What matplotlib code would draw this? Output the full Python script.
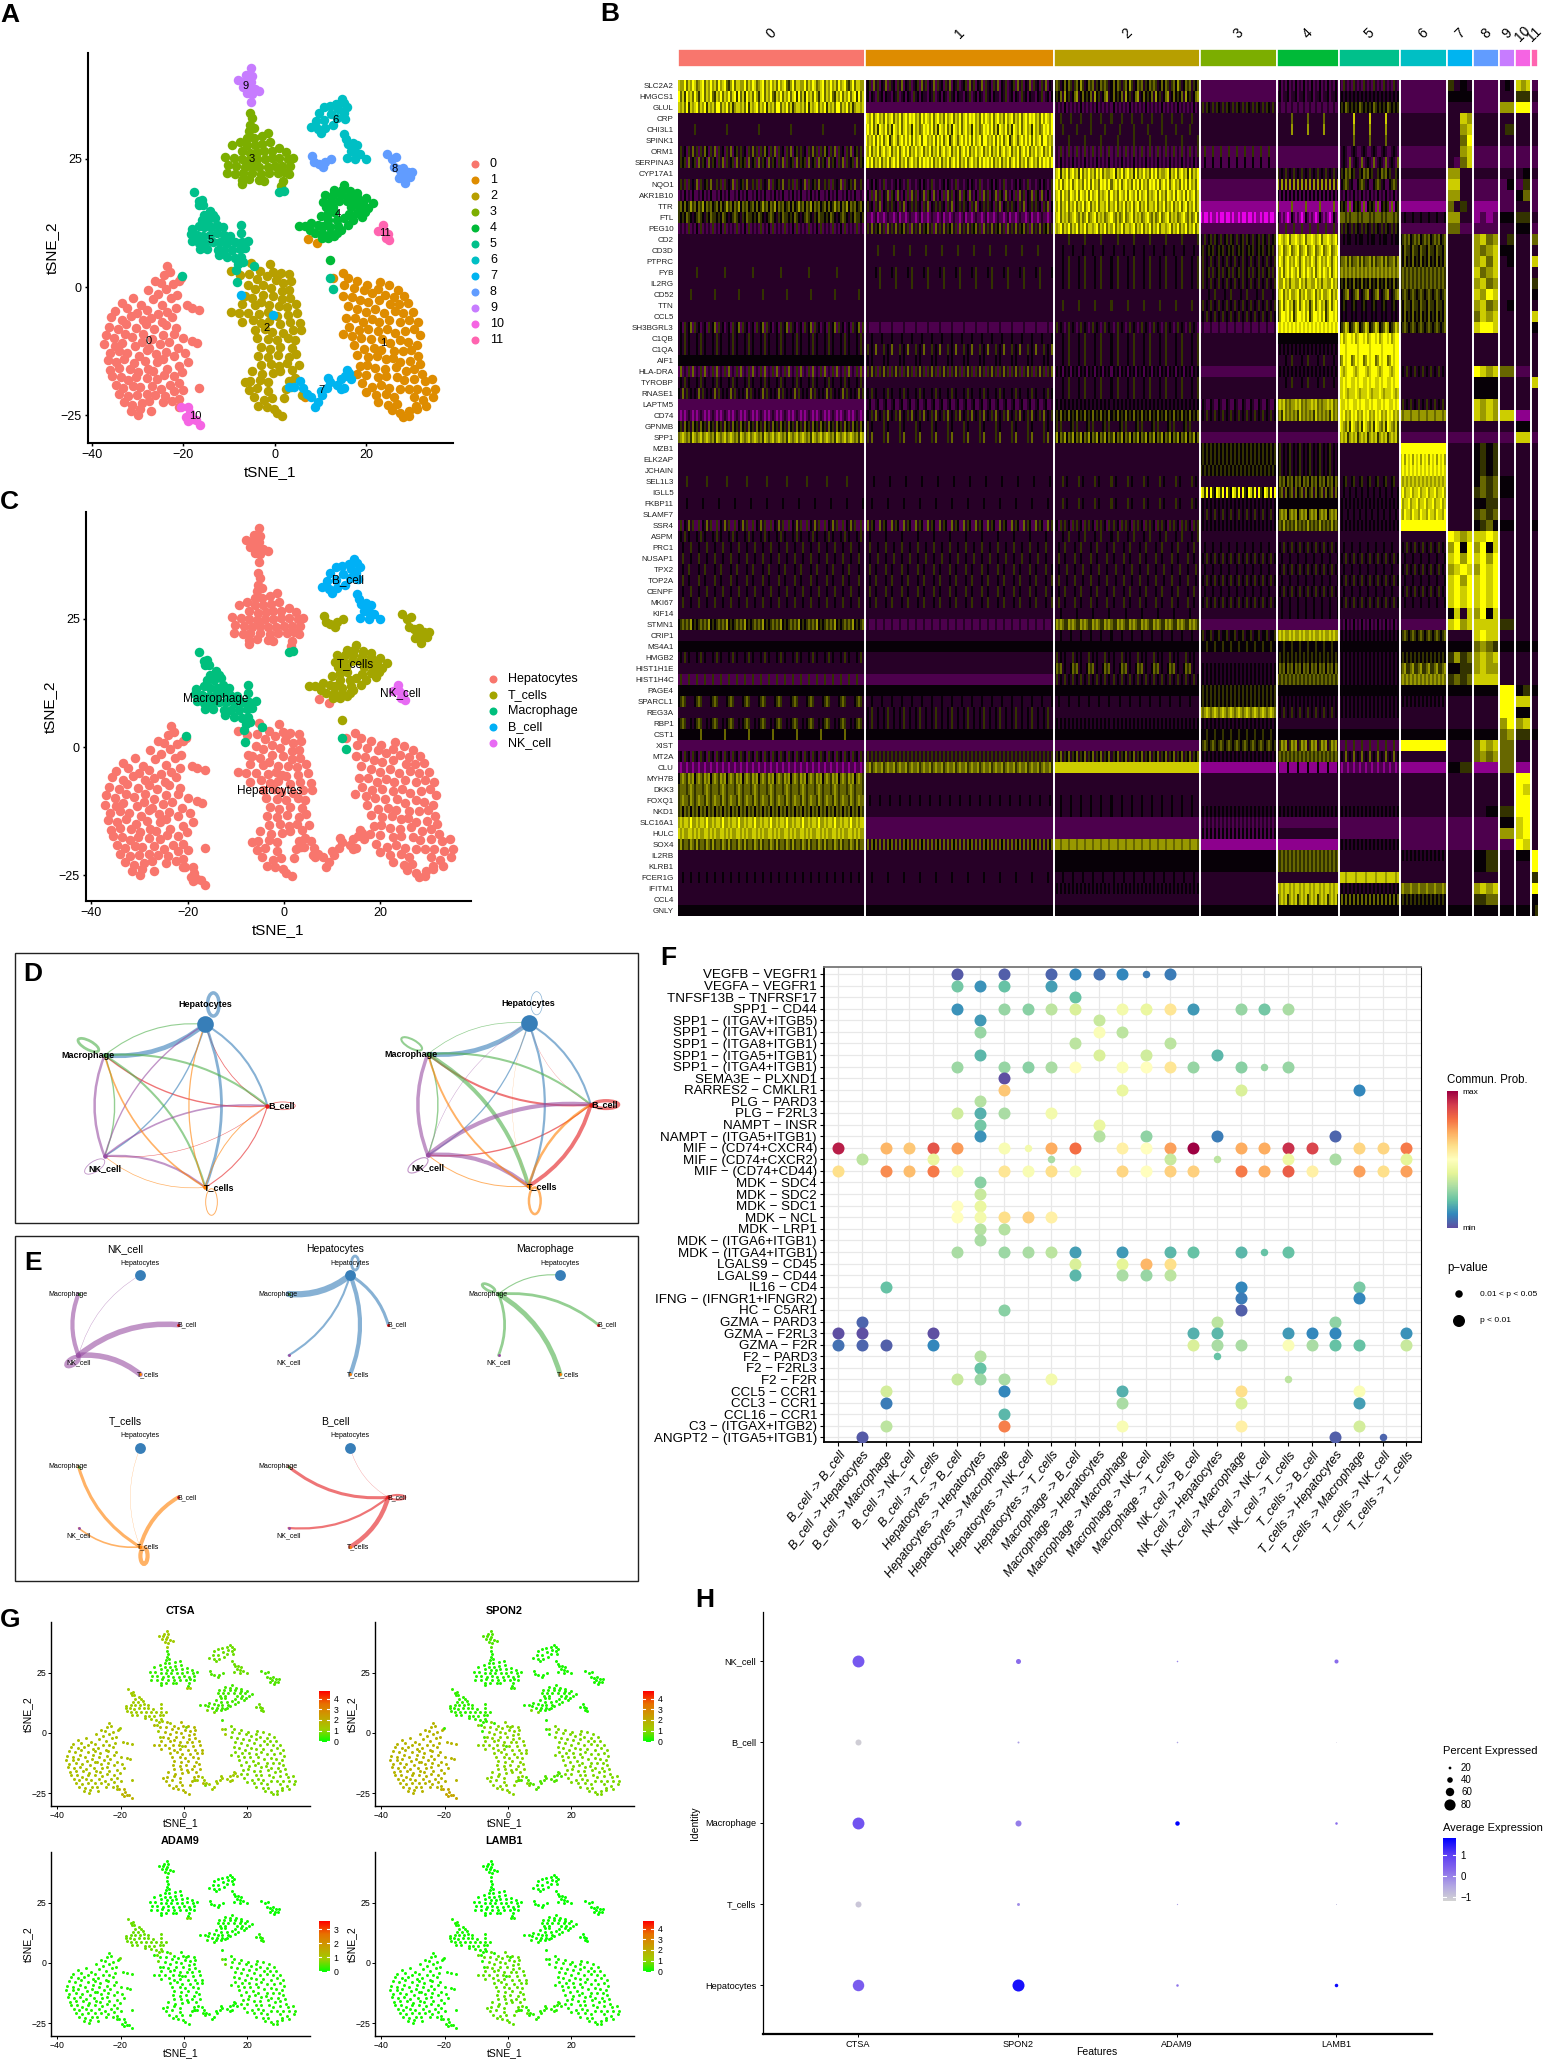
"""
Multi-panel single cell figure: tSNE maps, marker heatmap, cell-cell networks, bubble plot, feature maps, dot plot.
"""

import matplotlib
matplotlib.use("Agg")
import matplotlib.pyplot as plt
import numpy as np
from matplotlib.colors import LinearSegmentedColormap
from matplotlib.patches import Ellipse, FancyArrowPatch, Rectangle

plt.rcParams['font.family'] = ['Liberation Sans', 'DejaVu Sans']

W, H = 1548, 2059

# tSNE cells, one list per cluster
CL0 = [(-23.5, 4.1), (-24.1, 2.4), (-22.9, 2.9), (-20.4, 1.8), (-26.1, 1.1), (-24.9, .7), (-22.3, .5), (-20.9, 1.2), (-27.8, -.6), (-25.6, -1.3), (-23.7, -.4), (-21.3, -1.6), (-22.6, -2.1),
       (-33.4, -3.1), (-30.9, -2.2), (-29.2, -3.6), (-26.7, -2.4), (-24.6, -3.5), (-34.9, -4.6), (-32.3, -4.1), (-30.1, -5.1), (-28, -4.4), (-25.6, -5.2), (-23.5, -4.8), (-21.6, -4.1), (-18, -4.1), (-16.5, -4.4), (-19.2, -3.6),
       (-35.7, -5.8), (-33.4, -6.4), (-31.4, -5.7), (-28.8, -6.5), (-27, -6.1), (-24.7, -6.9), (-22.4, -5.9), (-36.3, -7.7), (-34.2, -8.1), (-32.5, -7.2), (-30.3, -7.9), (-28.1, -7.3), (-26.4, -8.2), (-23.8, -7.4), (-21.5, -7.9),
       (-36.9, -9.4), (-35.1, -9.9), (-32.8, -9.2), (-31.1, -9.8), (-28.8, -9.1), (-26.9, -10.1), (-24.4, -9.4), (-22.1, -9.2), (-37.2, -11.2), (-34.9, -11.4), (-33.4, -10.9), (-30.6, -11.5), (-29, -10.7), (-27.5, -11.9), (-25.1, -11.1), (-23.2, -10.8), (-20, -9.9),
       (-36.1, -12.8), (-34.1, -12.4), (-32.2, -12.9), (-29.7, -13.4), (-28, -12.2), (-26, -13.1), (-23.8, -12.6), (-21.1, -11.9), (-18.1, -10.6), (-17, -10.9), (-36.5, -14.2), (-34.7, -14.6), (-32.9, -14.1), (-30.8, -14.9), (-28.4, -14.4), (-25.7, -14.7), (-24.4, -14.1), (-22, -13.5), (-19.6, -12.8),
       (-36, -16.1), (-34, -15.8), (-31.7, -16), (-29.9, -16.6), (-27.8, -15.9), (-26.6, -16.3), (-23.6, -15.9), (-21, -15.3), (-19, -14.7), (-35.6, -17.4), (-33.6, -17.6), (-32, -18.2), (-30.4, -17.6), (-28, -17.7), (-25.8, -17.9), (-24.3, -17.2), (-22, -17.3), (-20.2, -16.6),
       (-34.7, -19), (-33.1, -19.7), (-31, -19.2), (-29.4, -19.4), (-26.9, -19.3), (-24.9, -19.8), (-23, -19), (-21, -18.8), (-34.1, -20.8), (-32, -21.2), (-30.1, -21), (-28, -20.9), (-26.1, -21), (-24, -21.3), (-22, -20.3), (-20, -20),
       (-33, -22.4), (-31.2, -23), (-29.1, -22.6), (-27.4, -22.3), (-24.5, -22.5), (-22.5, -22.3), (-21, -21.9), (-31.5, -24.1), (-29.5, -23.8), (-27, -24.2), (-21, -23.3), (-29.8, -24.9), (-16.5, -19.6)]
CL1 = [(14.8, 2.7), (15.9, 1.8), (18, 1.1), (20.2, .4), (23, 1), (24.9, .3), (26.8, -.5), (15.2, .4), (17.2, -.2), (19.4, -.6), (21.2, -1.2), (22.6, -.3), (24.1, -1.5), (26, -2), (28.3, -1.7),
       (14.9, -1.8), (16.8, -1.9), (18.6, -2.6), (20.4, -3), (22.7, -2.5), (25.2, -3.4), (27.1, -3.3), (29.1, -3.2), (16, -3.7), (18, -4.2), (19.8, -4.8), (21.9, -4.3), (23.9, -5), (26.2, -4.7), (28, -5.1), (30.1, -4.9),
       (15.6, -6), (17.4, -6.1), (19.2, -6.9), (21.2, -6.2), (22.8, -6.8), (25, -6.5), (27.3, -6.9), (29.2, -6.4), (31.2, -6.9), (16.2, -7.8), (18.3, -8.4), (20.4, -8.2), (22.6, -8.6), (24.4, -8.1), (26.2, -8.9), (28.4, -8.6), (30.3, -8.2), (31.6, -9.4),
       (14.8, -9.1), (16.9, -9.6), (18.8, -10), (20.9, -10.2), (23.4, -10.1), (25.1, -10.9), (27.3, -10.4), (29.1, -10.7), (31, -11.3), (17.2, -11.3), (19.4, -12.1), (21.6, -11.8), (23.2, -12.3), (26, -12.4), (28, -12.5), (29.8, -12.3), (31.3, -13.4),
       (18, -13.2), (20.4, -13.6), (22.4, -13.4), (24.2, -14.1), (25.8, -13.9), (27.4, -14.6), (29.6, -14.4), (31.8, -15), (18.6, -15.4), (20.2, -15.2), (21.9, -15.8), (24, -15.9), (26.4, -15.6), (28.6, -16.3), (30.4, -16), (32.1, -16.9),
       (17.9, -17), (19.8, -17.1), (22.6, -17.6), (24.3, -17.4), (26.7, -17.6), (28.1, -18.2), (30.4, -18), (32.8, -18.3), (34.4, -17.9), (19, -18.8), (21.3, -19.4), (23.2, -19.1), (25, -19.6), (27.4, -19.8), (29.2, -19.9), (31.1, -19.9), (33.1, -20.2), (35, -19.8),
       (20, -20.5), (22, -21), (24.2, -20.8), (26, -21.4), (30.4, -21.4), (32.4, -22), (34.6, -21.4), (22.6, -22.4), (24.8, -23), (26.6, -22.8), (30.8, -23.1), (33, -23.2), (25.6, -24), (27.4, -24.6), (29.4, -24.2), (31, -23.8), (28, -25.4), (29.2, -25.2),
       (12.8, 1.8), (9.3, 8.6), (7.3, 9.4), (.7, 2.3), (6.5, -21.5)]
CL2 = [(-5.2, 4.6), (-3.2, 3.1), (-1, 4.4), (-.3, 3), (1.3, 2.7), (3, 2.6), (-5.7, 2.6), (-3.9, 1.6), (-1.8, 2.2), (.2, 1.3), (1.8, .8), (3.6, 1.1), (-9.5, 3.2), (-7.6, 2.4), (-5.9, .3), (-4.4, -.4), (-2.5, .4), (-.8, -.1), (1.6, -.8), (3.1, -.5),
       (-6.6, -1.7), (-5, -2.1), (-2.6, -1.6), (-.3, -1.8), (1.6, -2.4), (3.4, -2.2), (-7.1, -3.4), (-4.4, -3.5), (-3.1, -3), (-1.3, -3.6), (.9, -3.7), (2.6, -3.9), (4.6, -3.3), (-7.9, -5), (-5.9, -5), (-3.4, -5.2), (-1.6, -4.9), (.4, -5.6), (2.9, -5.4), (4.9, -5), (-9.5, -4.8),
       (-7.1, -6.8), (-4.7, -6.4), (-3, -7), (-1.2, -6.6), (1.2, -7.2), (3.4, -6.9), (5.6, -7), (-4.4, -8.4), (-2.1, -8.1), (-.6, -8.7), (1.8, -8.9), (4, -8.4), (5.8, -8.4), (-3.8, -9.9), (-1.4, -10.1), (.4, -10.4), (2.9, -10), (4.4, -10.3),
       (-3, -11.6), (-1.1, -12), (1.2, -11.7), (3.8, -11.9), (-3.6, -13.4), (-1.4, -13.6), (.6, -13.3), (3, -13.7), (4.6, -13), (-3.1, -15.2), (-.8, -15), (1, -15.4), (2.6, -14.9), (5.2, -15.2), (-4.9, -16.4), (-2.8, -16.9), (-.5, -16.8), (1.2, -16.4), (3.7, -16.1),
       (-5.4, -18.4), (-3.2, -18.1), (-1.4, -18.6), (3.1, -18.4), (4.4, -17.8), (-6.6, -18.6), (-5.6, -20), (-3.9, -19.7), (-1.4, -20.3), (2.4, -19.8), (3.6, -19.5), (-4.6, -21.5), (-2.4, -22), (-.6, -21.7), (2, -21.6), (6, -21), (-3.6, -23.1), (-1.8, -23.4), (-.2, -23.8), (1.6, -25.2), (.4, -24.6)]
CL3 = [(-5.4, 34), (-5, 33), (-5.4, 31.6), (-5.6, 30.4), (-4.6, 30.9), (-6, 29), (-4.6, 29), (-1.4, 30), (-2.9, 29.5), (-7.6, 28.2), (-6, 27.6), (-4.4, 27.6), (-2.8, 27.8), (-1, 28.2), (-9.4, 27.6), (-7.2, 26.5), (-5.4, 26.2), (-3.8, 26.4), (-2.4, 26.6), (-.6, 26.6), (1, 27), (2.4, 26.3),
       (-10.8, 25.3), (-9, 25.2), (-7.2, 25), (-5.6, 24.8), (-4, 25), (-2.2, 25), (-.6, 25.1), (1, 25.2), (2.8, 25), (4, 25.2), (-10.2, 23.8), (-8.4, 23.6), (-6.6, 23.4), (-5, 23.6), (-3.4, 23.4), (-1.6, 23.4), (0, 23.6), (1.6, 23.5), (3.2, 23.6),
       (-10.4, 22.2), (-8.6, 22), (-7, 22.3), (-5, 22.2), (-3, 22), (-1.2, 22.2), (.6, 22.2), (2, 22.4), (3, 22), (-7.2, 20.8), (-5.6, 21), (-3.4, 20.8), (-2.4, 20.7), (1.7, 20.6), (1.4, 19.7), (-7.2, 20)]
CL4 = [(15, 19.9), (13, 19), (14.6, 18.9), (16.4, 18.8), (18, 18.4), (11, 18), (12.6, 18), (14.4, 18), (16.2, 17.8), (18, 17.6), (19.8, 17.4), (10.6, 16.6), (12.2, 16.8), (14, 16.8), (15.8, 16.7), (17.6, 16.6), (19.2, 16.6), (21.4, 16.3),
       (11.2, 15.6), (12.8, 15.6), (16.6, 15.6), (18.4, 15.6), (20.4, 15.4), (11.6, 14.4), (13, 14.6), (16.2, 14.2), (18, 14.4), (19.6, 14.6), (10, 13.8), (11.6, 13), (13.6, 13), (15, 13.4), (17, 13), (19, 13.6),
       (8, 12.5), (9.5, 12), (10.6, 11.8), (12, 11.6), (13.8, 11.8), (16, 12), (5.2, 11.8), (6.5, 11.8), (7.6, 11.2), (8.8, 10.6), (10.4, 10.6), (12, 10.4), (13.6, 10.6), (14.4, 11.2), (10.2, 9.6), (11.6, 9.6), (13, 10), (12.1, 5.2)]
CL5 = [(-17.7, 18.5), (-16.6, 16.8), (-16, 17), (-16.5, 16), (-15.6, 15.9), (-14.2, 14.8), (-13.6, 14), (-15.4, 14), (-16, 13), (-14.6, 13), (-13, 13.4), (-18.2, 11.4), (-16.6, 11.8), (-15.4, 11.6), (-14, 11.6), (-12.6, 12), (-11.4, 11.6), (-7.4, 12),
       (-18.4, 10.4), (-17, 10.2), (-15.6, 10), (-14.2, 10.2), (-12.6, 10.6), (-11.2, 10.2), (-9.8, 10), (-7.4, 10.6), (-18, 9), (-16.6, 8.6), (-15.2, 8.6), (-13.6, 8.8), (-12, 8.8), (-10.4, 8.6), (-8.8, 8.8), (-7.2, 8.8), (-5.8, 8.9),
       (-16.4, 7.4), (-14.8, 7.4), (-12.4, 7.2), (-11, 7.2), (-9.4, 7.2), (-7.6, 7.4), (-6.6, 7.6), (-12.2, 6.2), (-10.4, 5.8), (-8.8, 5.6), (-7.4, 5.8), (-8, 4.5), (-7, 4.8), (-8.4, 3.3), (-4.5, 4), (-8.2, 1), (12.8, -.3), (12, 1.8), (1, 18.6), (1.9, 18.7), (-20.3, 2.1)]
CL6 = [(14.6, 36.6), (15.2, 35.8), (13.4, 35.6), (15.8, 35), (12, 35.2), (13.8, 34.6), (15, 34), (10.8, 35), (12.2, 33.8), (13.6, 33), (15.4, 32.8), (9.6, 34), (10.8, 32.6), (9, 32.4), (7.8, 31.2), (9.4, 30.8), (11, 31), (12.6, 31.6), (10, 30),
       (15.2, 29.8), (15.6, 28.9), (16, 27.8), (17, 28), (18, 27.6), (16.6, 26.6), (17.6, 26.4), (18.6, 26), (15.8, 25.2), (17.6, 25), (19.8, 25)]
CL7 = [(3, -19.4), (4.2, -19.4), (5.6, -18.4), (6.2, -19.6), (7, -20.8), (-.5, -5.5), (-7.5, -1.6), (8, -21.4), (8.8, -23.4), (9.4, -22.4), (10.4, -21), (11.4, -19.6), (12, -18.6), (11.6, -17.8), (10, -20.2), (13.6, -19), (14.4, -18), (15, -19.6), (15.4, -17.4), (16.2, -16.8), (16.6, -18), (15.8, -16.2), (14.4, -19.8)]
CL8 = [(8.2, 25.6), (8.6, 24.4), (9.6, 24), (10.6, 23.4), (11, 24.3), (12.2, 25), (24.4, 26), (25.6, 25), (26.4, 25.4), (26, 23.4), (27, 23), (28, 23.2), (29, 22.4), (30, 22.4), (27.6, 22), (28.6, 21.4), (29.6, 21.4), (28.4, 20.3), (27.2, 21.2)]
CL9 = [(-5.3, 42.6), (-6.2, 41.4), (-5, 41.2), (-8, 40.3), (-6.6, 40.2), (-5.2, 40), (-7, 39), (-5.8, 39), (-4.4, 38.6), (-3.4, 38.2), (-6, 37.8), (-5, 37.6), (-5.3, 36)]
CL10 = [(-20.6, -23.4), (-19, -23.4), (-18.6, -24.6), (-19.4, -25.4), (-18, -25.8), (-17.2, -26), (-16.4, -26.9), (-19, -26.2)]
CL11 = [(23.6, 12), (22.6, 10.9), (23.8, 11), (24.6, 10.4), (24.2, 9.6), (25, 9.2)]
CLUSTERS = [CL0, CL1, CL2, CL3, CL4, CL5, CL6, CL7, CL8, CL9, CL10, CL11]

CLUSTER_NAMES = ['0', '1', '2', '3', '4', '5', '6', '7', '8', '9', '10', '11']
CLUSTER_COLORS = ['#F8766D', '#DE8C00', '#B79F00', '#7CAE00', '#00BA38', '#00C08B', '#00BFC4', '#00B4F0', '#619CFF', '#C77CFF', '#F564E3', '#FF64B0']
CLUSTER_LABEL_POS = [(-27.5, -10.5), (23.7, -10.9), (-1.8, -7.9), (-5, 25), (13.8, 14.3), (-14, 9.2), (13.2, 32.5), (10.2, -20), (26.2, 23), (-6.4, 39.2), (-17.3, -25.2), (24, 10.5)]

CELL_TYPES = ['Hepatocytes', 'T_cells', 'Macrophage', 'B_cell', 'NK_cell']
CELL_COLORS = ['#F8766D', '#A3A500', '#00BF7D', '#00B0F6', '#E76BF3']
CLUSTER_TYPE = [0, 0, 0, 0, 1, 2, 3, 0, 1, 0, 0, 4]
CELL_LABEL_POS = [(-2.9, -8.6), (14.8, 16.2), (-14.1, 9.4), (13.2, 32.6), (24.1, 10.6)]

# heatmap: cells per cluster, then one string of shade digits per cluster for each gene
CLUSTER_CELLS = [187, 189, 145, 77, 62, 61, 47, 26, 26, 16, 16, 7]
SHADES = [-.9, -.55, -.3, -.15, -.03, .2, .4, .6, .8, 1.]
GENES = ['SLC2A2', 'HMGCS1', 'GLUL', 'CRP', 'CHI3L1', 'SPINK1', 'ORM1', 'SERPINA3', 'CYP17A1', 'NQO1', 'AKR1B10', 'TTR', 'FTL', 'PEG10', 'CD2', 'CD3D', 'PTPRC', 'FYB', 'IL2RG', 'CD52', 'TTN', 'CCL5', 'SH3BGRL3',
         'C1QB', 'C1QA', 'AIF1', 'HLA-DRA', 'TYROBP', 'RNASE1', 'LAPTM5', 'CD74', 'GPNMB', 'SPP1', 'MZB1', 'ELK2AP', 'JCHAIN', 'SEL1L3', 'IGLL5', 'FKBP11', 'SLAMF7', 'SSR4', 'ASPM', 'PRC1', 'NUSAP1', 'TPX2', 'TOP2A', 'CENPF', 'MKI67', 'KIF14',
         'STMN1', 'CRIP1', 'MS4A1', 'HMGB2', 'HIST1H1E', 'HIST1H4C', 'PAGE4', 'SPARCL1', 'REG3A', 'RBP1', 'CST1', 'XIST', 'MT2A', 'CLU', 'MYH7B', 'DKK3', 'FOXQ1', 'NKD1', 'SLC16A1', 'HULC', 'SOX4', 'IL2RB', 'KLRB1', 'FCER1G', 'IFITM1', 'CCL4', 'GNLY']
HEAT_ROWS = [
    "877968798678968797869789657968 345263524362534253624352 565346465356475346563546 2 2423 32532 2 5343 2 343 878 2",
    "968597869758968796587968796895 342432534243324352 454637453467346 2 3423 34 2 4 2 3 55 3",
    "878695878968795878699687968578 2 23232423 3535435354 232 4546545 2 3 2 77 99 2",
    "3 987968978697896879689798978697 33353 3 33333336 33333338 3 3387 3 3 3 3",
    "3333333353333333 897968598796859879689785978679 3333533 3 33333337 33333337 3 3378 3 355 3 3",
    "3 978796979689579868979796978969 33333335 3 3 33333336 3 3369 3 3 3 3",
    "353425363525364253625342536245 879687968978968796897968797896 23252325 2252 2 23432 2 3378 2 2 2 2",
    "354526345263542635425362534526 897968796879689796879689786979 232423 2242 2 234326 2 3268 2 2 2 2",
    "3 3 789587968978596879786979687 3 5343 354656453 3 73 3 3 34 3",
    "353525343625345363 323424323523 897968979689786979697869 2 73 24565342 2 83 2 24 25 2",
    "232423242 242526352436254263 789697869879698796978968 2 42 2324 2 73 2 2 46 2",
    "564645756465746564 353425362435 879687968796879689687968 1 6111111 4545161 1 6353 1 2 3 2",
    "545465434565435465 32212312212 789687867897686796 01001011010 4212101 666565 3343 73 1212 4 5 3",
    "232325232425 353635463526 878968796879687968 2 5222 35354 2 62 2 3 4 2",
    "3 3 33333335 43534535 89878968 334344 45656 3 7867 35 3 6",
    "3 33333353 33334 45345 78967896 3 5465 3 7678 4 3 3",
    "3 3 33334335 3534 79868978 566757 5464 3 7868 34 3 8",
    "33333333353333 33333435 33334335 35345 87968979 676767 5656 3 8678 3 3 3",
    "3 33333335 33334335 3534 87797868 4546 5656 3 7867 3 3 5",
    "333333533333 3 3 33334335 78968797 34567 4565 3 8798 3 3 4",
    "3 3 33335333 3534 57968978 34543 5465 3 7867 34 3 3",
    "3 3 3 3435 57998979 34343 5464 3 6878 3 3 8",
    "342534625342 232222 353432 2322 98989898 45687 4565 3 8998 3 3 4",
    "34353433 33343 33334335 3 4 897899 3 3 3 3 3 3",
    "34353433 35343633 33334335 3 34 999899 3 3 3 3 3 3",
    "4 34343333 33334335 3 33334335 679899 3 3 3 3 3 3",
    "262325 253635 2434 2 3434 987899 3435 3 9878 6 2 3",
    "34353433 3 33334335 3 33334335 889899 3 3 4 3 3 8",
    "43635343 34353433 33334335 3 3 889878 3 3 4 3 3 3",
    "2 2342 3434 2432 78786767 988989 3534 3 8787 3 3 3",
    "212123 343536 4546 3435 67586767 989787 7677 3 8787 8 1 3",
    "453645364536 35343333 45353333 3 3 987685 3 3 3 3 4 3",
    "678767587678 35363333 5746 2 2 78785 2 2 2 2 8 2",
    "3 3 3 4545 45343 3 9999 3 4545 3 3 3",
    "3 3 3 4545 45343 3 8979 3 4545 3 3 3",
    "3 3 3 5454 45343 3 8989 3 4545 3 3 3",
    "3333533333 33334333 33335343 3 4656 3345 8787 3 4656 4 3 3",
    "3 3 3 98593954 45636 334 8978 3 5656 4 3 3",
    "33334333 33343333 33335343 34 4 34 9788 3 45 3 3 3",
    "3 3 3 3435 46767 343 8798 3 5656 3 3 3",
    "252436352 263542 342535 3434 565756 3434 9999 3 4564 4 3 4",
    "34353433 33433333 33334335 3 3 3 3 9878 8898 3 3 3",
    "33433353 33533343 33433533 3343 3435 3343 3435 7949 7948 3 3 3",
    "33533343 33433353 33533433 3435 3343 3435 3343 8979 8979 3 3 3",
    "33433533 33533433 33433353 3343 3435 3343 3435 7898 7989 3 3 3",
    "33533433 33433533 33533343 3435 3343 3435 3343 8979 8989 3 3 3",
    "33433353 33533433 33433533 3343 3435 3343 3435 8989 8989 3 3 3",
    "33533343 33433533 33533433 3435 3343 3435 3343 8989 8989 3 3 3",
    "3 3 33343333 3 3343 3 3 4838 7948 3 3 3",
    "456565745 2322 576765 2 2 2324 2 8978 8888 5 3 3",
    "3 3 33343 4534 78787 34 4565 3 8988 3 3 3",
    "4 4 4 4445 4445 4 4 4 6765 4 4 4",
    "34353433 3 35343433 3 4545 34 4545 5756 7878 3 3 3",
    "3 3 46563433 34 4656 34 5675 45 7877 3 3 3",
    "2522 2 3534 34 6565 34 6767 5656 8888 3 3 3",
    "4 4 4 4545 4 4 4 4 4 99 45 4",
    "45653333 33343 33433 4545 34 34 34 3 3 99 88 3",
    "3 34353343 3 7678 3435 34 3 3 3 99 4 3",
    "45653343 34353343 34 34 3 3 3 3 3 79 78 3",
    "444444444446 4 4 4445 4 4 4 4 4 67 5 4",
    "2 2 2 4565 35767 2225 9999 3 6878 6 3 3",
    "3425 3535 3546 3434 5656 3436 3 3 6767 6 3 3",
    "212 667567 8888888 1 41111 212 1 45 1 6 1 3",
    "46765767 3 3 3 3 3 3 3 3 3 99 3",
    "56665676 3 3 3 3 3 3 3 3 3 98 3",
    "56766576 33433 33343 3 3 3 3 3 3 3 99 3",
    "56465646 3 33343 34 34 34 3 3 34 5 99 3",
    "78788797 2 2 23 2 2 2 2 2 4 89 3",
    "87877887 2 2 24 3 2 2 2 2 7 89 3",
    "57566576 36364636 7776 1 1 34 2 2 2 2 98 3",
    "3 3 4 4 6565 3 34 3 45 3 4 9",
    "3 3 4 4 6565 3 3 3 45 3 3 9",
    "33433343 33343333 33334 3 3 88878 3 3 3 3 3 5",
    "3 3 34 3 87878 34 6766 3 7878 3 3 9",
    "3 3 3 3 57878 46 45 3 56 3 3 4",
    "4 4 4 4 4 4 4 4 4 4 4 45",
]

# networks: order on the circle, strengths as line widths from source (row) to target (column)
NODE_NAMES = ['B_cell', 'Hepatocytes', 'Macrophage', 'NK_cell', 'T_cells']
NODE_COLORS = ['#E41A1C', '#377EB8', '#4DAF4A', '#984EA3', '#FF7F00']
NODE_LABEL_DX = [.16, 0, -.19, 0, .15]
NODE_LABEL_DY = [0, .225, 0, -.145, 0]
LOOP_DX = [.17, .09, -.18, -.11, .07]
LOOP_DY = [0, .23, .12, -.12, -.17]
LOOP_W = [.28, .13, .26, .26, .13]
LOOP_H = [.09, .27, .1, .12, .31]
LOOP_ANGLE = [0, 0, -30, 35, 0]
D_LEFT = [[.6, .6, 1., .4, .8], [1.5, 2.5, 3.4, 1., 2.], [1.5, .8, 2., 1., 1.5], [1.2, 1., 1.8, .6, 1.5], [.7, .9, 1.2, .5, .7]]
D_RIGHT = [[2.4, .2, 1.5, 1., 2.8], [1.5, .5, 3.4, .9, 1.6], [1.5, .5, 1.5, 1., 2.8], [3., .3, 2.5, .8, 3.], [1.8, .15, 1.4, .7, 1.8]]
E_ORDER = [3, 1, 2, 4, 0]
E_WIDTHS = [[4., .3, 3., 3., 4.], [2.2, 2., 4.5, 1.5, 3.], [2., .8, 2., 2., 3.5], [2.8, .2, 2.2, 1.2, 3.], [1.5, .2, 2.2, 1.6, 3.2]]

# bubble plot, rows from top to bottom; column 1 is the first pair
PAIRS = ['VEGFB − VEGFR1', 'VEGFA − VEGFR1', 'TNFSF13B − TNFRSF17', 'SPP1 − CD44', 'SPP1 − (ITGAV+ITGB5)', 'SPP1 − (ITGAV+ITGB1)', 'SPP1 − (ITGA8+ITGB1)', 'SPP1 − (ITGA5+ITGB1)', 'SPP1 − (ITGA4+ITGB1)', 'SEMA3E − PLXND1',
         'RARRES2 − CMKLR1', 'PLG − PARD3', 'PLG − F2RL3', 'NAMPT − INSR', 'NAMPT − (ITGA5+ITGB1)', 'MIF − (CD74+CXCR4)', 'MIF − (CD74+CXCR2)', 'MIF − (CD74+CD44)', 'MDK − SDC4', 'MDK − SDC2', 'MDK − SDC1', 'MDK − NCL', 'MDK − LRP1',
         'MDK − (ITGA6+ITGB1)', 'MDK − (ITGA4+ITGB1)', 'LGALS9 − CD45', 'LGALS9 − CD44', 'IL16 − CD4', 'IFNG − (IFNGR1+IFNGR2)', 'HC − C5AR1', 'GZMA − PARD3', 'GZMA − F2RL3', 'GZMA − F2R', 'F2 − PARD3', 'F2 − F2RL3', 'F2 − F2R',
         'CCL5 − CCR1', 'CCL3 − CCR1', 'CCL16 − CCR1', 'C3 − (ITGAX+ITGB2)', 'ANGPT2 − (ITGA5+ITGB1)']
SOURCES = ['B_cell', 'Hepatocytes', 'Macrophage', 'NK_cell', 'T_cells']
TARGETS = ['B_cell', 'Hepatocytes', 'Macrophage', 'NK_cell', 'T_cells']
F_COLS = [[6, 8, 10, 11, 12, 13, 14, 15], [6, 7, 8, 10], [11], [6, 8, 9, 10, 11, 13, 14, 15, 16, 18, 19, 20], [7, 12], [7, 12, 13], [11, 15], [7, 12, 14, 17], [6, 8, 9, 10, 11, 13, 14, 15, 16, 18, 19, 20], [8],
          [8, 13, 18, 23], [7], [6, 7, 8, 10], [7, 12], [7, 12, 14, 17, 22], [1, 3, 4, 5, 6, 8, 9, 10, 11, 13, 14, 15, 16, 18, 19, 20, 21, 23, 24, 25], [2, 5, 10, 15, 17, 20, 22, 25], [1, 3, 4, 5, 6, 8, 9, 10, 11, 13, 14, 15, 16, 18, 19, 20, 21, 23, 24, 25],
          [7], [7], [6, 7], [6, 7, 8, 9, 10], [7, 8], [7], [6, 8, 9, 10, 11, 13, 15, 16, 18, 19, 20], [11, 13, 14, 15], [11, 13, 14, 15], [3, 18, 23], [18, 23], [8, 18], [2, 17, 22], [1, 2, 5, 16, 17, 20, 21, 22, 25],
          [1, 2, 3, 5, 16, 17, 18, 20, 21, 22, 23, 25], [7, 17], [7], [6, 7, 8, 10, 20], [3, 8, 13, 18, 23], [3, 13, 18, 23], [8], [3, 8, 13, 18, 23], [2, 22, 24]]
F_VALS = [[.02, .03, .04, .1, .06, .1, .08, .08], [.22, .12, .2, .14], [.2], [.12, .27, .25, .33, .38, .45, .42, .58, .13, .27, .22, .3], [.13, .35], [.27, .48, .33], [.33, .33], [.18, .38, .36, .18], [.28, .27, .25, .3, .5, .48, .5, .58, .27, .25, .27, .27], [0],
          [.65, .42, .38, .1], [.32], [.36, .17, .3, .45], [.22, .42], [.12, .32, .26, .08, .04], [.95, .68, .65, .85, .73, .47, .45, .7, .8, .55, .5, .72, 1., .7, .7, .92, .88, .62, .62, .78], [.33, .42, .3, .35, .33, .43, .3, .4], [.6, .75, .67, .78, .47, .58, .47, .6, .47, .62, .5, .63, .63, .78, .7, .83, .55, .72, .6, .72],
          [.25], [.35], [.5, .42], [.5, .45, .6, .63, .55], [.32, .32], [.3], [.3, .28, .3, .33, .14, .13, .18, .2, .18, .2, .2], [.38, .4, .68, .6], [.18, .3, .27, .33], [.2, .1, .23], [.08, .1], [.25, .03], [.04, .33, .26], [0, 0, 0, .17, .18, .13, .1, .1, .12],
          [.06, .04, .03, .1, .38, .3, .3, .48, .3, .2, .2, .35], [.32, .2], [.2], [.35, .28, .3, .45, .33], [.37, .1, .17, .6, .48], [.08, .3, .38, .14], [.18], [.33, .77, .47, .55, .37], [.02, .03, .04]]
# (row, column) of the p between 0.01 and 0.05 dots
F_SMALL = [(0, 14), (8, 19), (15, 9), (16, 10), (16, 17), (24, 19), (33, 17), (35, 20), (40, 24)]

# feature maps: level of each gene per cluster
FEATURES = ['CTSA', 'SPON2', 'ADAM9', 'LAMB1']
FEATURE_LEVELS = [[1.5, .9, 1.7, .4, .5, 1.2, .8, 1.2, .6, 1.2, 1.9, .8], [1.8, .9, 1., .25, .25, .35, .2, .6, .2, .6, 2.2, .2], [.2, .2, .15, .05, .1, .6, .05, .1, .05, .1, .1, .2], [.15, .2, .7, .05, .1, .2, .05, .3, .05, .05, .2, .05]]
FEATURE_VMAX = [4.7, 4.7, 3.6, 4.7]
FEATURE_TICKS = [[0, 1, 2, 3, 4], [0, 1, 2, 3, 4], [0, 1, 2, 3], [0, 1, 2, 3, 4]]

# dot plot
H_IDENTS = ['Hepatocytes', 'T_cells', 'Macrophage', 'B_cell', 'NK_cell']
H_PCT = [[82, 86, 18, 25], [43, 21, 9, 6], [85, 43, 32, 18], [43, 14, 11, 4], [85, 36, 11, 29]]
H_AVG = [[.45, 1.5, .1, 1.6], [-1., -.2, -.4, -.8], [.6, 0., 1.7, .2], [-1.1, -.4, -.5, -1.], [.5, .2, -.1, .2]]
H_LEGEND_PCT = [20, 40, 60, 80]


fig = plt.figure(figsize=(W / 100, H / 100), dpi=100)


def px_axes(x0, y0, x1, y1):
    return fig.add_axes([x0 / W, 1 - y1 / H, (x1 - x0) / W, (y1 - y0) / H])


def dot_area(d):
    # scatter size for a dot of d pixels across
    return (d * .72) ** 2


def style_tsne(ax, xlim, ylim, fs, lw, labelfs, xpad, ypad, tickpad=2):
    ax.set_xlim(*xlim)
    ax.set_ylim(*ylim)
    ax.set_xticks([-40, -20, 0, 20])
    ax.set_yticks([-25, 0, 25])
    ax.set_yticklabels(['−25', '0', '25'])
    ax.set_xticklabels(['−40', '−20', '0', '20'])
    ax.tick_params(labelsize=fs, width=lw * .7, length=2.5, pad=tickpad)
    for s in ['top', 'right']:
        ax.spines[s].set_visible(False)
    for s in ['left', 'bottom']:
        ax.spines[s].set_linewidth(lw)
    ax.set_xlabel('tSNE_1', fontsize=labelfs, labelpad=xpad)
    ax.set_ylabel('tSNE_2', fontsize=labelfs, labelpad=ypad)


def gradient_bar(rect, cmap, vmin, vmax, ticks=None, fs=7):
    ax = px_axes(*rect)
    ax.imshow(np.linspace(0, 1, 200)[:, None], aspect='auto', cmap=cmap, origin='lower', extent=[0, 1, vmin, vmax])
    ax.set_xticks([])
    ax.yaxis.tick_right()
    ax.set_yticks(ticks if ticks else [])
    ax.tick_params(length=0, labelsize=fs, pad=3)
    for s in ax.spines.values():
        s.set_visible(False)
    for t in (ticks or []):
        ax.plot([0, .2], [t, t], color='white', lw=.8)
        ax.plot([.8, 1], [t, t], color='white', lw=.8)
    ax.set_xlim(0, 1)
    ax.set_ylim(vmin, vmax)
    return ax


def draw_network(cx, cy, rx, ry, widths, sources, node_size, fs, bold, title=None):
    ax = px_axes(cx - 1.6 * rx, cy - 1.6 * ry, cx + 1.6 * rx, cy + 1.6 * ry)
    ax.set_xlim(-1.6, 1.6)
    ax.set_ylim(-1.6, 1.6)
    ax.axis('off')
    ax.patch.set_alpha(0)
    angle = np.radians(np.arange(5) * 72)
    xs, ys = np.cos(angle), np.sin(angle)
    for row, src in zip(widths, sources):
        for dst, lw in enumerate(row):
            if dst == src:
                ax.add_patch(Ellipse((xs[src] + LOOP_DX[src], ys[src] + LOOP_DY[src]), LOOP_W[src], LOOP_H[src], angle=LOOP_ANGLE[src],
                                     fill=False, edgecolor=NODE_COLORS[src], alpha=.6, lw=lw))
            else:
                ax.add_patch(FancyArrowPatch((xs[src], ys[src]), (xs[dst], ys[dst]), connectionstyle='arc3,rad=-0.2', arrowstyle='-',
                                             shrinkA=0, shrinkB=0, color=NODE_COLORS[src], alpha=.6, lw=lw))
    sizes = [node_size * .27] * 5
    sizes[1] = node_size
    for i in range(5):
        ax.plot(xs[i], ys[i], 'o', color=NODE_COLORS[i], ms=sizes[i], mew=0)
        ax.text(xs[i] + NODE_LABEL_DX[i], ys[i] + NODE_LABEL_DY[i], NODE_NAMES[i], ha='center', va='center', fontsize=fs,
                fontweight='bold' if bold else 'normal')
    if title:
        ax.text(.04, 1.45, title, ha='center', va='center', fontsize=7.5)


# panel A
ax = px_axes(88, 53, 453, 443)
for pts, col in zip(CLUSTERS, CLUSTER_COLORS):
    p = np.array(pts)
    ax.scatter(p[:, 0], p[:, 1], s=dot_area(9.5), color=col, linewidths=0)
for name, pos in zip(CLUSTER_NAMES, CLUSTER_LABEL_POS):
    ax.text(pos[0], pos[1], name, ha='center', va='center', fontsize=8)
style_tsne(ax, (-40.8, 38.9), (-30.4, 45.6), 9, 1.5, 11, 3, 1)

# panel C
ax = px_axes(86, 512, 470.6, 901)
for pts, t in zip(CLUSTERS, CLUSTER_TYPE):
    p = np.array(pts)
    ax.scatter(p[:, 0], p[:, 1], s=dot_area(9.5), color=CELL_COLORS[t], linewidths=0)
for name, pos in zip(CELL_TYPES, CELL_LABEL_POS):
    ax.text(pos[0], pos[1], name, ha='center', va='center', fontsize=8.5)
style_tsne(ax, (-41.1, 38.7), (-30, 45.8), 9, 1.5, 11, 3, 1)

# panel B
ax_bar = px_axes(678, 49, 1538, 67)
lefts = np.cumsum([0] + CLUSTER_CELLS[:-1])
ax_bar.bar(lefts, 1, width=CLUSTER_CELLS, align='edge', color=CLUSTER_COLORS, edgecolor='white', linewidth=1.2)
ax_bar.set_xlim(0, sum(CLUSTER_CELLS))
ax_bar.set_ylim(0, 1)
ax_bar.axis('off')
for name, left, width in zip(CLUSTER_NAMES, lefts, CLUSTER_CELLS):
    ax_bar.text(left + width / 2, 1.85, name, rotation=45, ha='center', va='center', fontsize=10)

ax_heat = px_axes(678, 80, 1538, 916)
grid = np.zeros((len(GENES), sum(CLUSTER_CELLS)))
for r, row in enumerate(HEAT_ROWS):
    for left, width, group in zip(lefts, CLUSTER_CELLS, row.split()):
        cells = np.array([SHADES[int(c)] for c in group])
        if width < 40:
            # narrow clusters: the string runs once across the cluster
            grid[r, left:left + width] = cells[np.arange(width) * len(cells) // width]
        else:
            # wide clusters: the string repeats as thin stripes
            grid[r, left:left + width] = cells[(np.arange(width) // 2) % len(cells)]
pury = LinearSegmentedColormap.from_list('pury', ['#FF00FF', '#000000', '#FFFF00'])
ax_heat.imshow(grid, aspect='auto', cmap=pury, vmin=-1, vmax=1, interpolation='nearest', extent=[0, sum(CLUSTER_CELLS), len(GENES), 0])
for left in lefts[1:]:
    ax_heat.axvline(left, color='white', lw=1.4)
ax_heat.set_xticks([])
ax_heat.set_yticks(np.arange(len(GENES)) + .5)
ax_heat.set_yticklabels(GENES, fontsize=5.8, color='#222222')
ax_heat.tick_params(length=0, pad=3)
for s in ax_heat.spines.values():
    s.set_visible(False)

# panels D and E
overlay = fig.add_axes([0, 0, 1, 1], zorder=10)
overlay.set_xlim(0, W)
overlay.set_ylim(H, 0)
overlay.axis('off')
overlay.patch.set_alpha(0)
overlay.add_patch(Rectangle((15, 953), 623, 270, fill=False, edgecolor='#222222', lw=1))
overlay.add_patch(Rectangle((15, 1236), 623, 345, fill=False, edgecolor='#222222', lw=1))

draw_network(177.4, 1105.8, 90, 85.8, D_LEFT, range(5), 12, 6.5, True)
draw_network(500.7, 1104.6, 90, 85.8, D_RIGHT, range(5), 12, 6.5, True)
for k, src in enumerate(E_ORDER):
    draw_network(123.1 + (k % 3) * 210, 1324.7 + (k // 3) * 172.6, 55.1, 52.2, [E_WIDTHS[k]], [src], 7.8, 5, False, title=NODE_NAMES[src])

# panel F
ax = px_axes(824, 967, 1420.6, 1442)
col_labels = [s + ' -> ' + t for s in SOURCES for t in TARGETS]
ax.set_xlim(.4, 25.6)
ax.set_ylim(len(PAIRS) + .4, .4)
ax.set_xticks(np.arange(1, 26))
ax.set_xticklabels(col_labels, rotation=52, ha='right', rotation_mode='anchor', fontsize=8.9, style='italic')
ax.set_yticks(np.arange(1, len(PAIRS) + 1))
ax.set_yticklabels(PAIRS, fontsize=9.6)
ax.tick_params(length=3, width=.8, pad=2)
ax.grid(color='#e8e8e8', lw=.9)
ax.set_axisbelow(True)
spectral = plt.get_cmap('Spectral_r')
for r, (cols, vals) in enumerate(zip(F_COLS, F_VALS)):
    for c, v in zip(cols, vals):
        d = 7.5 if (r, c) in F_SMALL else 12
        ax.scatter(c, r + 1, s=dot_area(d), color=spectral(v), linewidths=0, zorder=3)
for s in ['left', 'bottom']:
    ax.spines[s].set_linewidth(1.3)
ax.spines['top'].set_color('#777777')
ax.spines['top'].set_linewidth(1.3)
ax.spines['right'].set_linewidth(.8)

overlay.text(1447, 1080, 'Commun. Prob.', fontsize=8.3, va='center')
gradient_bar((1447, 1091, 1458, 1228), spectral, 0, 1)
overlay.text(1462, 1093, 'max', fontsize=6, va='center')
overlay.text(1462, 1228, 'min', fontsize=6, va='center')
overlay.text(1447, 1268, 'p−value', fontsize=8.3, va='center')
overlay.scatter([1459, 1459], [1294, 1321], s=[dot_area(7.5), dot_area(12)], color='black', linewidths=0)
overlay.text(1480, 1294, '0.01 < p < 0.05', fontsize=6, va='center')
overlay.text(1480, 1321, 'p < 0.01', fontsize=6, va='center')

# panel G
green_red = LinearSegmentedColormap.from_list('green_red', ['#00FF00', '#A0CC00', '#C8A000', '#E87000', '#FF0000'])
for k, name in enumerate(FEATURES):
    dx, dy = (k % 2) * 324, (k // 2) * 230
    ax = px_axes(51 + dx, 1622 + dy, 310 + dx, 1806 + dy)
    for pts, level in zip(CLUSTERS, FEATURE_LEVELS[k]):
        p = np.array(pts)
        ax.scatter(p[:, 0], p[:, 1], s=dot_area(3), color=green_red(level / FEATURE_VMAX[k]), linewidths=0)
    style_tsne(ax, (-41.9, 39.7), (-30.4, 46.2), 6.3, 1, 7.5, -1, -1, tickpad=1)
    overlay.text(180 + dx, 1611 + dy, name, fontsize=7.8, fontweight='bold', ha='center', va='center')
    gradient_bar((319 + dx, 1691 + dy, 329.5 + dx, 1742 + dy), green_red, -.05, FEATURE_VMAX[k], FEATURE_TICKS[k], fs=6.3)

# panel H
ax = px_axes(762.5, 1612, 1432, 2034)
gray_blue = LinearSegmentedColormap.from_list('gray_blue', ['#D3D3D3', '#B0A4E4', '#8668EC', '#5A3CF4', '#0000FF'])
ax.set_xlim(.4, 4.6)
ax.set_ylim(.4, 5.6)
ax.set_xticks([1, 2, 3, 4])
ax.set_xticklabels(FEATURES, fontsize=6.6)
ax.set_yticks([1, 2, 3, 4, 5])
ax.set_yticklabels(H_IDENTS, fontsize=6.6)
ax.tick_params(length=2.5, width=.7, pad=2)
for r in range(5):
    for c in range(4):
        ax.scatter(c + 1, r + 1, s=dot_area(H_PCT[r][c] * .14), color=gray_blue((H_AVG[r][c] + 1.2) / 2.9), linewidths=0)
for s in ['top', 'right']:
    ax.spines[s].set_visible(False)
ax.spines['left'].set_linewidth(.9)
ax.spines['bottom'].set_linewidth(1.6)
overlay.text(695, 1823, 'Identity', fontsize=7.5, rotation=90, ha='center', va='center')
overlay.text(1097, 2052, 'Features', fontsize=7.5, ha='center', va='center')
overlay.text(1443, 1751, 'Percent Expressed', fontsize=8, va='center')
overlay.scatter([1450] * 4, [1768, 1780, 1792, 1805], s=[dot_area(p * .14) for p in H_LEGEND_PCT], color='black', linewidths=0)
for y, p in zip([1768, 1780, 1792, 1805], H_LEGEND_PCT):
    overlay.text(1461, y, str(p), fontsize=7, va='center')
overlay.text(1443, 1828, 'Average Expression', fontsize=8, va='center')
gradient_bar((1443, 1838, 1456, 1901), gray_blue, -1.2, 1.8, [-1, 0, 1], fs=7).set_yticklabels(['−1', '0', '1'])

# legends of A and C
for k, (name, col) in enumerate(zip(CLUSTER_NAMES, CLUSTER_COLORS)):
    y = 164 + k * 16
    overlay.scatter(475, y, s=dot_area(8), color=col, linewidths=0)
    overlay.text(490, y, name, fontsize=9, va='center')
for k, (name, col) in enumerate(zip(CELL_TYPES, CELL_COLORS)):
    y = 679 + k * 16
    overlay.scatter(493, y, s=dot_area(8), color=col, linewidths=0)
    overlay.text(508, y, name, fontsize=9, va='center')

# panel letters
for letter, x, y in [('A', 0, 15), ('B', 600, 14), ('C', 0, 502), ('D', 23, 974), ('E', 24, 1263), ('F', 660, 958), ('G', 0, 1620), ('H', 695, 1600)]:
    overlay.text(x, y, letter, fontsize=19, fontweight='bold', ha='left', va='center')

fig.savefig('out.png', dpi=100)
